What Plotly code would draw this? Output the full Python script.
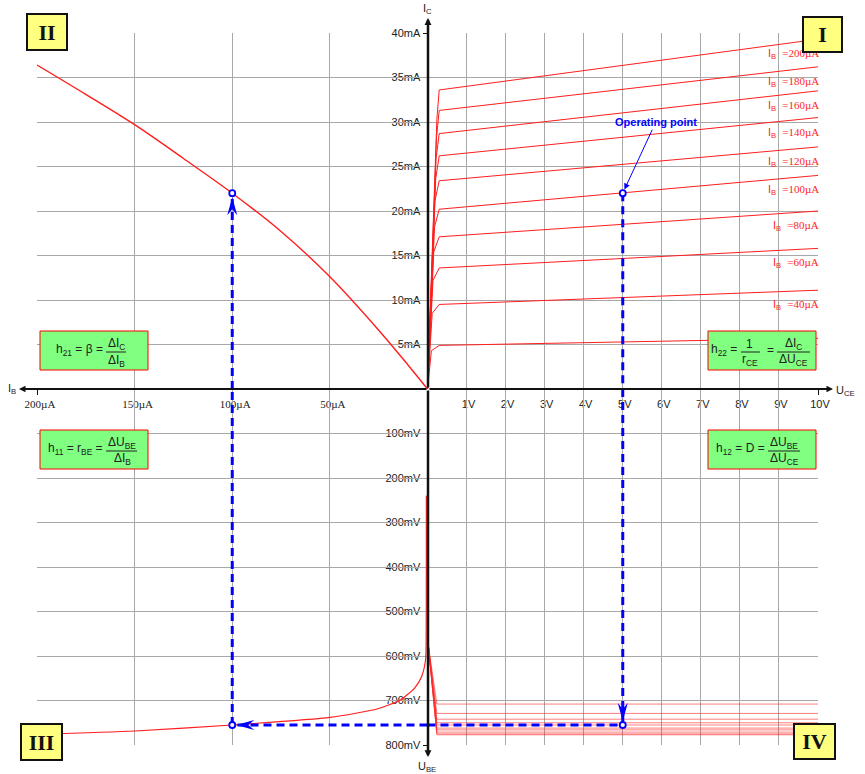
import plotly.graph_objects as go

# ---------------- data ----------------
# Output characteristics I_C(U_CE) for several base currents (quadrant I)
ib_curves = [20, 40, 60, 80, 100, 120, 140, 160, 180, 200]                 # µA
uce_rise = [0.10, 0.12, 0.14, 0.16, 0.18, 0.19, 0.21, 0.22, 0.23, 0.24]     # V
ic_rise = [4.3, 8.5, 12.2, 15.4, 18.2, 21.1, 23.6, 25.9, 28.2, 30.3]        # mA
uce_knee = 0.3                                                              # V
ic_knee = [4.9, 9.5, 13.6, 17.1, 20.2, 23.4, 26.2, 28.7, 31.3, 33.6]        # mA
uce_max = 10                                                                # V
ic_at_10v = [5.7, 11.1, 15.8, 20.0, 24.0, 27.2, 30.5, 33.5, 36.2, 39.3]     # mA

# Current transfer characteristic I_C(I_B) (quadrant II)
ib_transfer = [0, 10, 25, 50, 75, 100, 125, 150, 175, 200]
ic_transfer = [0, 2.7, 6.6, 12.6, 17.7, 22.0, 25.9, 29.7, 33.1, 36.4]

# Input characteristic U_BE(I_B) (quadrant III)
ib_input = [200, 150, 100, 50, 25, 14, 6.6, 3, 1, 0.7, 0.6, 0.6]
ube_input = [776, 768.5, 755, 738, 718, 699, 672, 646, 609, 571, 420, 240]

# Reverse voltage feedback U_BE(U_CE) (quadrant IV)
uce_fb = [0.02, 0.24, 10]
ube_fb_start = 575
ube_fb_level = [708, 729, 742, 750, 755, 762, 766, 771, 775, 777]          # mV

# Operating point
op_ib, op_ic, op_uce, op_ube = 100, 22.0, 5, 755

# Tick values
uce_ticks = [1, 2, 3, 4, 5, 6, 7, 8, 9, 10]
ib_ticks = [50, 100, 150, 200]
ic_ticks = [5, 10, 15, 20, 25, 30, 35, 40]
ube_ticks = [100, 200, 300, 400, 500, 600, 700, 800]

# ---------------- styling ----------------
W, H = 865, 774
L, T, R, B = 37, 33, 818, 745
SANS = "Arial, Liberation Sans, sans-serif"
SERIF = "Times New Roman, Liberation Serif, serif"
RED = "#ff1e1e"
RED_LIGHT = "rgba(255,40,40,0.6)"
BLUE = "#0000ff"
GRID = "#a8a8a8"
INK = "#222222"


def px(x):
    return (x - L) / (R - L)


def py(y):
    return (B - y) / (B - T)


fig = go.Figure()

# Quadrant I: output characteristics
for i, ib in enumerate(ib_curves):
    fig.add_trace(go.Scatter(
        x=[0, uce_rise[i], uce_knee, uce_max],
        y=[0, ic_rise[i], ic_knee[i], ic_at_10v[i]],
        xaxis="x", yaxis="y", mode="lines",
        line=dict(color=RED, width=1), hoverinfo="skip", showlegend=False))

# Quadrant II: current transfer
fig.add_trace(go.Scatter(
    x=ib_transfer, y=ic_transfer, xaxis="x2", yaxis="y", mode="lines",
    line=dict(color=RED, width=1.4, shape="spline", smoothing=1.0),
    hoverinfo="skip", showlegend=False))

# Quadrant III: input characteristic
fig.add_trace(go.Scatter(
    x=ib_input, y=ube_input, xaxis="x2", yaxis="y2", mode="lines",
    line=dict(color=RED, width=1.2, shape="spline", smoothing=0.6),
    hoverinfo="skip", showlegend=False))

# Quadrant IV: feedback family
for lvl in ube_fb_level:
    fig.add_trace(go.Scatter(
        x=uce_fb, y=[ube_fb_start, lvl, lvl], xaxis="x", yaxis="y2", mode="lines",
        line=dict(color=RED_LIGHT, width=1), hoverinfo="skip", showlegend=False))

# Construction lines through the operating point
dash = dict(color=BLUE, width=3, dash="8px,5px")
construction = [
    ([op_ib, op_ib], [0, op_ic], "x2", "y"),
    ([op_ib, op_ib], [op_ube, 0], "x2", "y2"),
    ([0, op_ib], [op_ube, op_ube], "x2", "y2"),
    ([0, op_uce], [op_ube, op_ube], "x", "y2"),
    ([op_uce, op_uce], [0, op_ube], "x", "y2"),
    ([op_uce, op_uce], [op_ic, 0], "x", "y"),
]
for xs, ys, xa, ya in construction:
    fig.add_trace(go.Scatter(x=xs, y=ys, xaxis=xa, yaxis=ya, mode="lines",
                             line=dash, hoverinfo="skip", showlegend=False))

for xv, yv, xa, ya in [(op_ib, op_ic, "x2", "y"), (op_ib, op_ube, "x2", "y2"),
                       (op_uce, op_ic, "x", "y"), (op_uce, op_ube, "x", "y2")]:
    fig.add_trace(go.Scatter(x=[xv], y=[yv], xaxis=xa, yaxis=ya, mode="markers",
                             marker=dict(symbol="circle", size=6, color="white",
                                         line=dict(color=BLUE, width=1.8)),
                             cliponaxis=False, hoverinfo="skip", showlegend=False))

shapes = []
# Arrowheads on the construction lines (pixel-sized, anchored at the points)
shapes.append(dict(type="path", xref="x2", yref="y", xsizemode="pixel", ysizemode="pixel",
                   xanchor=op_ib, yanchor=op_ic,
                   path="M0,-4 L-5,-22 L0,-16 L5,-22 Z", fillcolor=BLUE, line=dict(width=0)))
shapes.append(dict(type="path", xref="x", yref="y2", xsizemode="pixel", ysizemode="pixel",
                   xanchor=op_uce, yanchor=op_ube,
                   path="M0,4 L-5,22 L0,16 L5,22 Z", fillcolor=BLUE, line=dict(width=0)))
shapes.append(dict(type="path", xref="x2", yref="y2", xsizemode="pixel", ysizemode="pixel",
                   xanchor=op_ib, yanchor=op_ube,
                   path="M4,0 L22,5 L16,0 L22,-5 Z", fillcolor=BLUE, line=dict(width=0)))

annotations = []


def txt(x, y, s, size=12, color=INK, family=SANS, xanchor="center", **kw):
    annotations.append(dict(xref="paper", yref="paper", x=px(x), y=py(y), text=s,
                            showarrow=False, xanchor=xanchor, yanchor="middle",
                            font=dict(family=family, size=size, color=color), **kw))


def frac_line(x0, x1, y):
    shapes.append(dict(type="line", xref="paper", yref="paper",
                       x0=px(x0), x1=px(x1), y0=py(y), y1=py(y),
                       line=dict(color=INK, width=1)))


def green_box(x0, y0, x1, y1):
    shapes.append(dict(type="rect", xref="paper", yref="paper",
                       x0=px(x0), x1=px(x1), y0=py(y1), y1=py(y0),
                       fillcolor="#80ff80", line=dict(color="#ff0000", width=1)))


# h-parameter boxes
green_box(40, 331, 148, 370)
txt(105, 350, "h<sub>21</sub> = β =", xanchor="right")
txt(116, 344, "ΔI<sub>C</sub>")
frac_line(106, 126, 352)
txt(116, 361, "ΔI<sub>B</sub>")

green_box(40, 430, 148, 469)
txt(105, 449, "h<sub>11</sub> = r<sub>BE</sub> =", xanchor="right")
txt(122, 443, "ΔU<sub>BE</sub>")
frac_line(106, 137, 451)
txt(122, 459, "ΔI<sub>B</sub>")

green_box(708, 331, 816, 370)
txt(739, 350, "h<sub>22</sub> =", xanchor="right")
txt(749, 344, "1")
frac_line(741, 760, 352)
txt(750, 360, "r<sub>CE</sub>")
txt(770, 350, "=")
txt(793, 344, "ΔI<sub>C</sub>")
frac_line(777, 810, 352)
txt(793, 360, "ΔU<sub>CE</sub>")

green_box(708, 430, 816, 469)
txt(767, 449, "h<sub>12</sub> = D =", xanchor="right")
txt(784, 443, "ΔU<sub>BE</sub>")
frac_line(768, 800, 451)
txt(784, 459, "ΔU<sub>CE</sub>")

# Base-current labels on the output curves
for i, ib in enumerate(ib_curves):
    if ib < 40:
        continue
    annotations.append(dict(
        xref="x", yref="y", x=uce_max, y=ic_at_10v[i], xanchor="right", yanchor="middle",
        xshift=3, yshift=-15, showarrow=False,
        text=f"I<sub>B</sub>\u00a0\u00a0<span style='font-family:Liberation Serif, Times New Roman, serif'>={ib}µA</span>",
        font=dict(family=SANS, size=11, color=RED)))

# Operating point label
annotations.append(dict(xref="x", yref="y", x=op_uce, y=op_ic, ax=33, ay=-71,
                        text="<b>Operating point</b>", showarrow=True, arrowhead=2,
                        arrowsize=1.2, arrowwidth=1, arrowcolor=BLUE, standoff=4,
                        font=dict(family=SANS, size=11, color=BLUE)))

# Axis lines with arrow tips
ox, oy = 428, 389
for tipx, tipy, w, sz in [(ox, 18, 2.5, 0.55), (ox, 757, 2.5, 0.55), (19, oy, 2, 0.65), (833, oy, 2, 0.65)]:
    annotations.append(dict(xref="paper", yref="paper", x=px(tipx), y=py(tipy),
                            ax=ox - tipx, ay=oy - tipy, text="", showarrow=True,
                            arrowhead=2, arrowsize=sz, arrowwidth=w, arrowcolor="#111111"))

# Axis titles
txt(427, 9, "I<sub>C</sub>", size=11)
txt(427, 767, "U<sub>BE</sub>", size=11)
txt(12, 389, "I<sub>B</sub>", size=11)
txt(846, 391, "U<sub>CE</sub>", size=11)

# Quadrant numbers
for label, cx, cy, w, h in [("I", 822.5, 34.5, 37, 33), ("II", 47, 32, 38, 34),
                            ("III", 41.5, 742, 39, 34), ("IV", 814.5, 741.5, 39, 33)]:
    annotations.append(dict(xref="paper", yref="paper", x=px(cx), y=py(cy), text=f"<b>{label}</b>",
                            showarrow=False, xanchor="center", yanchor="middle",
                            width=w, height=h, bgcolor="#ffff80", bordercolor="#111111",
                            borderwidth=2, borderpad=0,
                            font=dict(family=SERIF, size=22, color="#111111")))

tickfont = dict(family=SANS, size=11, color=INK)
common = dict(anchor="free", position=0.5, ticks="outside", ticklen=5, tickwidth=1,
              tickcolor="#111111", showgrid=True, gridcolor=GRID, gridwidth=1,
              zeroline=False, showline=False, fixedrange=True)

fig.update_layout(
    width=W, height=H, template="none",
    paper_bgcolor="white", plot_bgcolor="white",
    margin=dict(l=L, r=W - R, t=T, b=H - B, pad=0),
    showlegend=False,
    xaxis=dict(domain=[0.5, 1], range=[0, uce_max], tickvals=uce_ticks,
               ticktext=[f"{v}V" for v in uce_ticks], side="bottom",
               tickfont=tickfont, ticklabelshift=2, **common),
    xaxis2=dict(domain=[0, 0.5], range=[200, 0], tickvals=ib_ticks,
                ticktext=[f"{v}µA" for v in ib_ticks], side="bottom",
                tickfont=dict(family=SERIF, size=11, color=INK), ticklabelshift=-3, **common),
    yaxis=dict(domain=[0.5, 1], range=[0, 40], tickvals=ic_ticks,
               ticktext=[f"{v}mA" for v in ic_ticks], side="left", tickfont=tickfont, **common),
    yaxis2=dict(domain=[0, 0.5], range=[800, 0], tickvals=ube_ticks,
                ticktext=[f"{v}mV" for v in ube_ticks], side="left", tickfont=tickfont, **common),
    shapes=shapes,
    annotations=annotations,
)

fig.write_html("out.html")
